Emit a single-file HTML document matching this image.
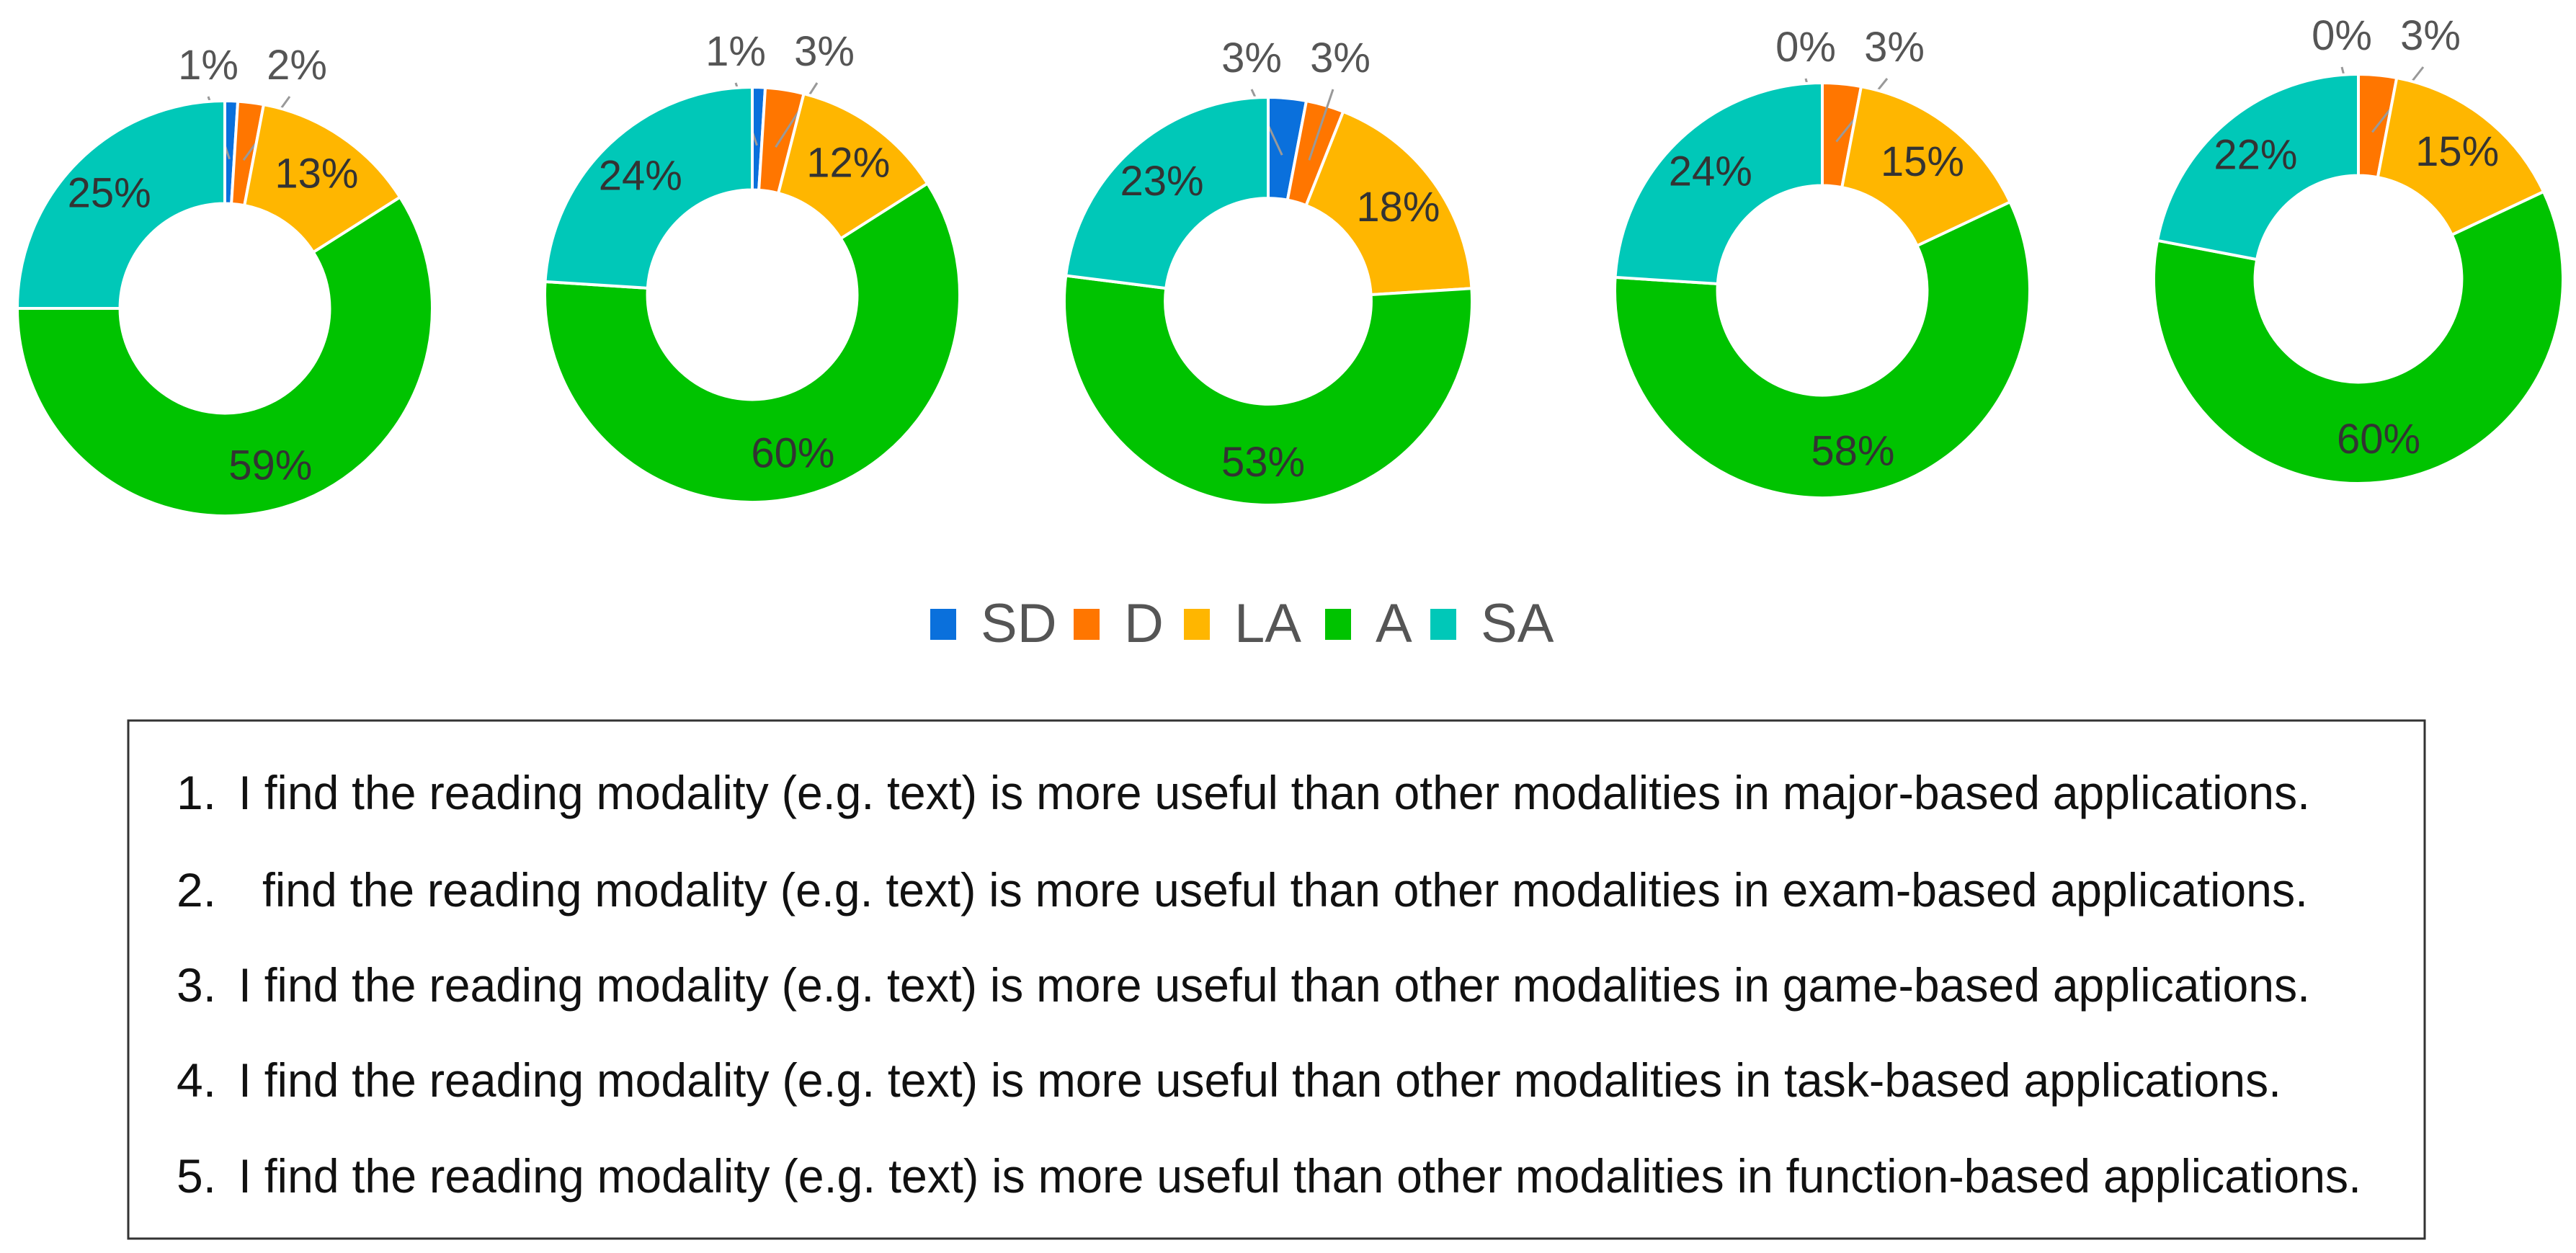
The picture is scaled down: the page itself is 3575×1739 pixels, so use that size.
<!DOCTYPE html>
<html><head><meta charset="utf-8"><style>
html,body{margin:0;padding:0;background:#fff;}
svg{display:block;font-family:"Liberation Sans",Arial,sans-serif;}
</style></head><body>
<svg id="chart" width="3575" height="1739" viewBox="0 0 3575 1739" xmlns="http://www.w3.org/2000/svg">
<g id="donuts"></g>
<g id="legend"></g>
<rect x="178" y="1000" width="3187" height="719" fill="none" stroke="#333" stroke-width="3"/>
<g font-size="66" fill="#111">
<text x="245" y="1123">1.</text>
<text x="331" y="1123" textLength="2875" lengthAdjust="spacingAndGlyphs">I find the reading modality (e.g. text) is more useful than other modalities in major-based applications.</text>
<text x="245" y="1258">2.</text>
<text x="364" y="1258" textLength="2839" lengthAdjust="spacingAndGlyphs">find the reading modality (e.g. text) is more useful than other modalities in exam-based applications.</text>
<text x="245" y="1390">3.</text>
<text x="331" y="1390" textLength="2875" lengthAdjust="spacingAndGlyphs">I find the reading modality (e.g. text) is more useful than other modalities in game-based applications.</text>
<text x="245" y="1522">4.</text>
<text x="331" y="1522" textLength="2835" lengthAdjust="spacingAndGlyphs">I find the reading modality (e.g. text) is more useful than other modalities in task-based applications.</text>
<text x="245" y="1655">5.</text>
<text x="331" y="1655" textLength="2946" lengthAdjust="spacingAndGlyphs">I find the reading modality (e.g. text) is more useful than other modalities in function-based applications.</text>
</g>
</svg>
<script>
const categories = ["SD", "D", "LA", "A", "SA"];
const colors = ["#0a70dc", "#ff7600", "#ffb600", "#00c300", "#00c8b8"];
const q1 = [1, 2, 13, 59, 25];
const q2 = [1, 3, 12, 60, 24];
const q3 = [3, 3, 18, 53, 23];
const q4 = [0, 3, 15, 58, 24];
const q5 = [0, 3, 15, 60, 22];
const seriesList = [q1, q2, q3, q4, q5];

const NS = "http://www.w3.org/2000/svg";
const geom = [
  {cx: 312, cy: 428, r: 288},
  {cx: 1044, cy: 409, r: 288},
  {cx: 1760, cy: 418, r: 283},
  {cx: 2529, cy: 403, r: 288},
  {cx: 3273, cy: 387, r: 284}
];
function mk(tag, attrs, parent) {
  const e = document.createElementNS(NS, tag);
  for (const k in attrs) e.setAttribute(k, attrs[k]);
  parent.appendChild(e);
  return e;
}
function pt(cx, cy, r, frac) {
  const a = frac * 2 * Math.PI - Math.PI / 2;
  return [cx + r * Math.cos(a), cy + r * Math.sin(a)];
}
const donutsG = document.getElementById("donuts");
seriesList.forEach((vals, di) => {
  const g = geom[di];
  const ri = g.r * 0.505;
  const total = vals.reduce((a, b) => a + b, 0);
  const grp = mk("g", {}, donutsG);
  
  
  let cum = 0;
  let smallIdx = 0;
  vals.forEach((v, i) => {
    const f0 = cum / total, f1 = (cum + v) / total;
    cum += v;
    const mid = (f0 + f1) / 2;
    if (v > 0) {
      const [x0, y0] = pt(g.cx, g.cy, g.r, f0);
      const [x1, y1] = pt(g.cx, g.cy, g.r, f1);
      const [x2, y2] = pt(g.cx, g.cy, ri, f1);
      const [x3, y3] = pt(g.cx, g.cy, ri, f0);
      const large = (f1 - f0) > 0.5 ? 1 : 0;
      const d = `M${x0},${y0} A${g.r},${g.r} 0 ${large} 1 ${x1},${y1} L${x2},${y2} A${ri},${ri} 0 ${large} 0 ${x3},${y3} Z`;
      const p = mk("path", {d: d, fill: colors[i], stroke: "#fff", "stroke-width": 4}, grp);
      
      
    }
    if (v >= 8) {
      const [lx, ly] = pt(g.cx, g.cy, (g.r + ri) / 2 + 10, mid);
      const t = mk("text", {x: lx, y: ly + 20, "text-anchor": "middle", "font-size": 58, fill: "#333"}, grp);
      t.textContent = v + "%";
      
      
    } else {
      const lxp = smallIdx === 0 ? g.cx - 23 : g.cx + 100;
      const lyp = g.cy - 318;
      smallIdx++;
      const [ax, ay] = pt(g.cx, g.cy, g.r * 0.72, mid);
      const ln = mk("line", {x1: lxp + (smallIdx === 1 ? 0 : -10), y1: lyp + 24, x2: ax, y2: ay, stroke: "#999", "stroke-width": 3}, grp);
      
      
      const t = mk("text", {x: lxp, y: lyp, "text-anchor": "middle", "font-size": 58, fill: "#555"}, grp);
      t.textContent = v + "%";
      
      
    }
  });
});
const legendG = document.getElementById("legend");
const legendX = [1291, 1490, 1643, 1839, 1985];
categories.forEach((c, i) => {
  const r = mk("rect", {x: legendX[i], y: 845, width: 36, height: 43, fill: colors[i]}, legendG);
  
  
  const t = mk("text", {x: legendX[i] + 70, y: 891, "font-size": 76, fill: "#555"}, legendG);
  t.textContent = c;
  
  
});
</script>
</body></html>
